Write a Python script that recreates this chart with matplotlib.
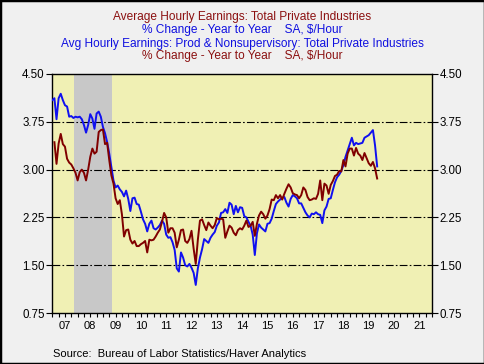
import numpy as np
import matplotlib
matplotlib.use("Agg")
import matplotlib.pyplot as plt
from matplotlib.ticker import MultipleLocator, FixedLocator, FuncFormatter
from matplotlib.patches import Rectangle

plt.rcParams['font.family'] = ['Liberation Sans', 'DejaVu Sans']

# Average Hourly Earnings: Total Private, % y/y (monthly, from Feb 2007)
ahe_total = [
    3.43, 3.09, 3.41, 3.56, 3.40, 3.36, 3.17, 3.11, 3.08, 3.02, 2.95,
    2.83, 2.96, 3.00, 2.95, 2.83, 3.00, 3.20, 3.33, 3.25, 3.28, 3.59, 3.62,
    3.63, 3.40, 3.42, 3.15, 2.91, 2.78, 2.55, 2.46, 2.52, 2.30, 1.95, 2.05,
    2.06, 1.90, 1.84, 1.88, 1.80, 1.80, 1.83, 1.85, 1.88, 1.70, 1.90, 1.89,
    1.90, 1.95, 2.01, 2.06, 2.18, 2.32, 2.25, 2.01, 2.08, 2.08, 2.01, 1.78,
    1.90, 2.05, 2.06, 1.88, 1.85, 1.91, 2.04, 1.76, 1.52, 1.90, 2.20, 2.22,
    2.13, 2.05, 2.17, 2.12, 2.08, 2.13, 2.24, 2.22, 2.23, 2.22, 1.93, 2.03,
    2.12, 2.09, 2.01, 1.97, 2.05, 2.08, 2.06, 2.12, 2.20, 2.10, 2.12, 2.18,
    1.96, 2.15, 2.28, 2.34, 2.30, 2.23, 2.28, 2.38, 2.53, 2.52, 2.60, 2.55,
    2.60, 2.53, 2.62, 2.70, 2.77, 2.72, 2.63, 2.61, 2.60, 2.55, 2.60, 2.72,
    2.68, 2.57, 2.52, 2.53, 2.55, 2.54, 2.62, 2.83, 2.52, 2.78, 2.75, 2.62,
    2.76, 2.82, 2.90, 2.92, 2.98, 2.97, 3.15, 3.05, 3.25, 3.33, 3.33, 3.22,
    3.34, 3.25, 3.22, 3.15, 3.26, 3.18, 3.10, 3.06, 3.12, 3.02, 2.86,
]

# Avg Hourly Earnings: Production & Nonsupervisory, % y/y (monthly, from Jan 2007)
ahe_prod = [
    4.09, 4.12, 3.79, 4.12, 4.19, 4.09, 4.01, 3.99, 3.83, 3.84, 3.81, 3.83,
    3.82, 3.83, 3.79, 3.70, 3.58, 3.70, 3.87, 3.80, 3.64, 3.88, 3.91, 3.83,
    3.67, 3.57, 3.43, 3.25, 3.04, 2.83, 2.72, 2.75, 2.69, 2.65, 2.58, 2.67,
    2.54, 2.35, 2.55, 2.56, 2.46, 2.45, 2.34, 2.22, 2.15, 2.03, 2.15, 2.20,
    2.08, 2.06, 2.09, 2.13, 2.20, 2.15, 1.98, 1.93, 1.94, 1.86, 1.74, 1.45,
    1.40, 1.70, 1.62, 1.50, 1.48, 1.52, 1.46, 1.38, 1.19, 1.45, 1.62, 1.75,
    1.91, 1.88, 1.85, 1.93, 1.98, 2.02, 2.12, 2.17, 2.32, 2.33, 2.38, 2.32,
    2.48, 2.45, 2.30, 2.43, 2.33, 2.41, 2.40, 2.27, 2.25, 2.18, 2.12, 1.98,
    1.66, 2.00, 2.14, 2.09, 2.06, 2.03, 2.15, 2.16, 2.23, 2.35, 2.46, 2.50,
    2.53, 2.56, 2.57, 2.48, 2.42, 2.54, 2.60, 2.58, 2.55, 2.47, 2.47, 2.40,
    2.33, 2.28, 2.25, 2.31, 2.30, 2.33, 2.30, 2.29, 2.16, 2.36, 2.42, 2.54,
    2.55, 2.68, 2.80, 2.88, 2.92, 2.98, 3.07, 3.20, 3.30, 3.40, 3.50, 3.38,
    3.42, 3.40, 3.41, 3.42, 3.50, 3.52, 3.54, 3.58, 3.62, 3.38, 3.05,
]

start_total = 2007 + 1 / 12
start_prod = 2007.0
recession = (2007.87, 2009.37)
y_ticks = [0.75, 1.50, 2.25, 3.00, 3.75, 4.50]
year_labels = ['07', '08', '09', '10', '11', '12', '13', '14',
               '15', '16', '17', '18', '19', '20', '21']

title_lines = [
    ("Average Hourly Earnings: Total Private Industries", '#8b1010'),
    ("% Change - Year to Year    SA, $/Hour", '#1010e0'),
    ("Avg Hourly Earnings: Prod & Nonsupervisory: Total Private Industries", '#1010e0'),
    ("% Change - Year to Year    SA, $/Hour", '#8b1010'),
]
source_text = "Source:  Bureau of Labor Statistics/Haver Analytics"

W, H = 485, 364
fig = plt.figure(figsize=(W / 100, H / 100), dpi=100, facecolor='#f0f0f0')
ax = fig.add_axes([52.3 / W, 1 - 313 / H, (432 - 52.3) / W, (313 - 74) / H])
ax.set_facecolor('#f0f0b4')

ax.axvspan(recession[0], recession[1], color='#c8c8c8', lw=0, zorder=0.5)
for y in y_ticks[1:-1]:
    ax.axhline(y, color='black', lw=0.8, ls=(0, (7, 2, 1.5, 2)), zorder=1)

x_prod = start_prod + np.arange(len(ahe_prod)) / 12
x_total = start_total + np.arange(len(ahe_total)) / 12
ax.plot(x_prod, ahe_prod, color='#1010f0', lw=1.4, zorder=3)
ax.plot(x_total, ahe_total, color='#800000', lw=1.4, zorder=4)

ax.set_xlim(2007, 2022)
ax.set_ylim(0.75, 4.5)

for s in ax.spines.values():
    s.set_color('black')
    s.set_linewidth(1.0)

ax.yaxis.set_major_locator(FixedLocator(y_ticks))
ax.yaxis.set_major_formatter(FuncFormatter(lambda v, p: f"{v:.2f}"))
ax.tick_params(axis='y', which='major', direction='out', length=4, width=0.8,
               left=True, right=True, labelleft=True, labelright=True,
               labelsize=8.3, pad=1.5)

years = list(range(2007, 2023))
ax.xaxis.set_major_locator(FixedLocator(years))
ax.xaxis.set_minor_locator(MultipleLocator(0.25))
ax.tick_params(axis='x', which='both', direction='out', length=3, width=0.8,
               labelbottom=False)
for i, lab in enumerate(year_labels):
    ax.text(2007 + i + 0.5, -0.053, lab, transform=ax.get_xaxis_transform(),
            ha='center', va='center', fontsize=8)

title_y = [17, 29.5, 44.5, 56.5]
for (txt, col), yy in zip(title_lines, title_y):
    fig.text(0.5, 1 - yy / H, txt, color=col, ha='center', va='center', fontsize=8.6)

fig.text(53 / W, 1 - 354 / H, source_text, ha='left', va='center', fontsize=8)

fig.patches.append(Rectangle((0, 0), 1, 1, transform=fig.transFigure, fill=False,
                             ec='black', lw=2.5))

fig.savefig('out.png', dpi=100, facecolor=fig.get_facecolor())
